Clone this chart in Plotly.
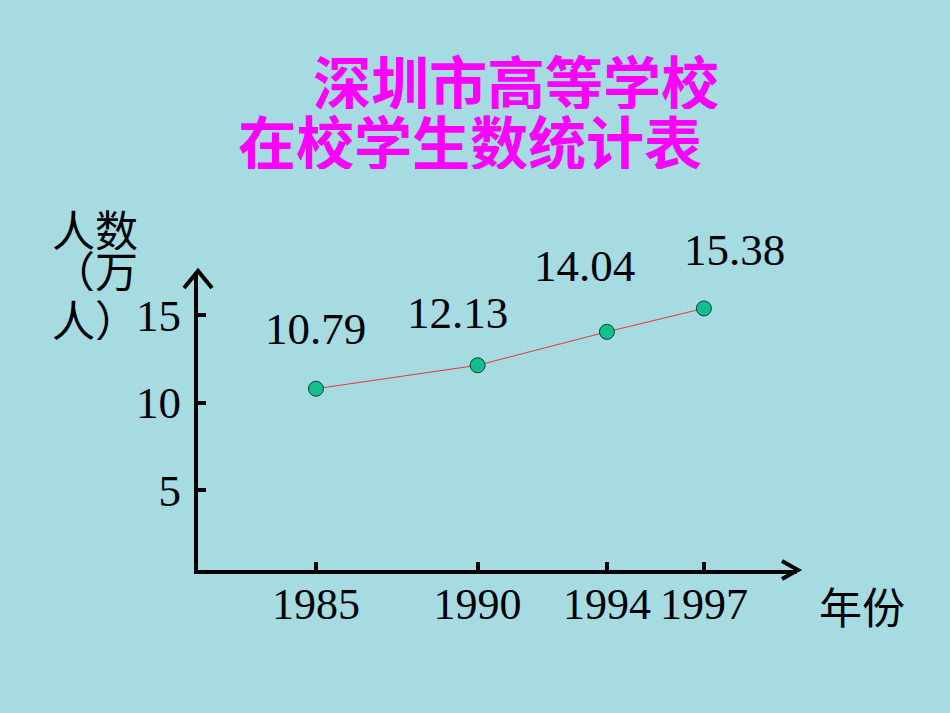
import plotly.graph_objects as go

# ---- data ----
years = [1985, 1990, 1994, 1997]
students = [10.79, 12.13, 14.04, 15.38]
value_labels = ["10.79", "12.13", "14.04", "15.38"]
y_ticks = [5, 10, 15]
title_lines = ["深圳市高等学校", "在校学生数统计表"]
y_title = ["人数", "（万", "人）"]
x_title = "年份"

W, H = 950, 713
BG = "#a6dbe1"
SERIF = "Liberation Serif, Times New Roman, serif"
CJK = "Noto Sans CJK SC, sans-serif"

def px(x):
    return x / W

def py(y):
    return (H - y) / H

fig = go.Figure()
fig.add_trace(go.Scatter(
    x=years, y=students, mode="lines+markers",
    line=dict(color="#e8383a", width=1),
    marker=dict(size=15, color="#12c08e", line=dict(color="#0a3f30", width=1)),
    hoverinfo="skip", showlegend=False,
))

# value labels (offsets in pixels relative to each point)
label_shift = [(0, 60), (-20, 52), (-22, 66), (31, 58)]
annotations = []
for xv, yv, t, (dx, dy) in zip(years, students, value_labels, label_shift):
    annotations.append(dict(x=xv, y=yv, xref="x", yref="y", text=t, showarrow=False,
                            xshift=dx, yshift=dy,
                            font=dict(family=SERIF, size=45, color="black")))

# title
annotations.append(dict(x=px(311), y=py(80), xref="paper", yref="paper", xanchor="left",
                        yanchor="middle", text=title_lines[0], showarrow=False, height=58,
                        font=dict(family=CJK, size=58, color="#ff00ff", weight="bold")))
annotations.append(dict(x=px(236), y=py(140), xref="paper", yref="paper", xanchor="left",
                        yanchor="middle", text=title_lines[1], showarrow=False, height=58,
                        font=dict(family=CJK, size=58, color="#ff00ff", weight="bold")))
# y title lines
for t, yy in zip(y_title, [228, 269, 318]):
    annotations.append(dict(x=px(50), y=py(yy), xref="paper", yref="paper", xanchor="left",
                            yanchor="middle", text=t, showarrow=False, height=44,
                            font=dict(family=CJK, size=43, color="black")))
annotations.append(dict(x=px(862), y=py(605), xref="paper", yref="paper", xanchor="center",
                        yanchor="middle", text=x_title, showarrow=False,
                        font=dict(family=CJK, size=43, color="black")))

# arrow heads
shapes = [
    dict(type="path", xref="paper", yref="paper",
         path=f"M {px(184)} {py(288)} L {px(198)} {py(271)} L {px(212)} {py(288)}",
         line=dict(color="black", width=4)),
    dict(type="path", xref="paper", yref="paper",
         path=f"M {px(782)} {py(561)} L {px(798)} {py(570)} L {px(782)} {py(579)}",
         line=dict(color="black", width=4)),
]

fig.update_layout(
    width=W, height=H,
    margin=dict(l=0, r=0, t=0, b=0),
    paper_bgcolor=BG, plot_bgcolor=BG,
    annotations=annotations, shapes=shapes,
    xaxis=dict(domain=[px(198), px(797)], range=[1981.35, 1999.88],
               tickmode="array", tickvals=years, ticktext=[str(v) for v in years],
               showgrid=False, zeroline=False, showline=True, linecolor="black", linewidth=4,
               ticks="inside", ticklen=8, tickwidth=4, tickcolor="black",
               ticklabelstandoff=-8,
               tickfont=dict(family=SERIF, size=44, color="black")),
    yaxis=dict(domain=[py(570), py(272)], range=[0.43, 17.46],
               tickmode="array", tickvals=y_ticks, ticktext=[str(v) for v in y_ticks],
               showgrid=False, zeroline=False, showline=True, linecolor="black", linewidth=4,
               ticks="inside", ticklen=8, tickwidth=4, tickcolor="black",
               ticklabelstandoff=4,
               tickfont=dict(family=SERIF, size=45, color="black")),
)

fig.write_html("out.html", config={"displayModeBar": False},
               post_script="document.body.style.margin='0';document.body.style.overflow='hidden';")
